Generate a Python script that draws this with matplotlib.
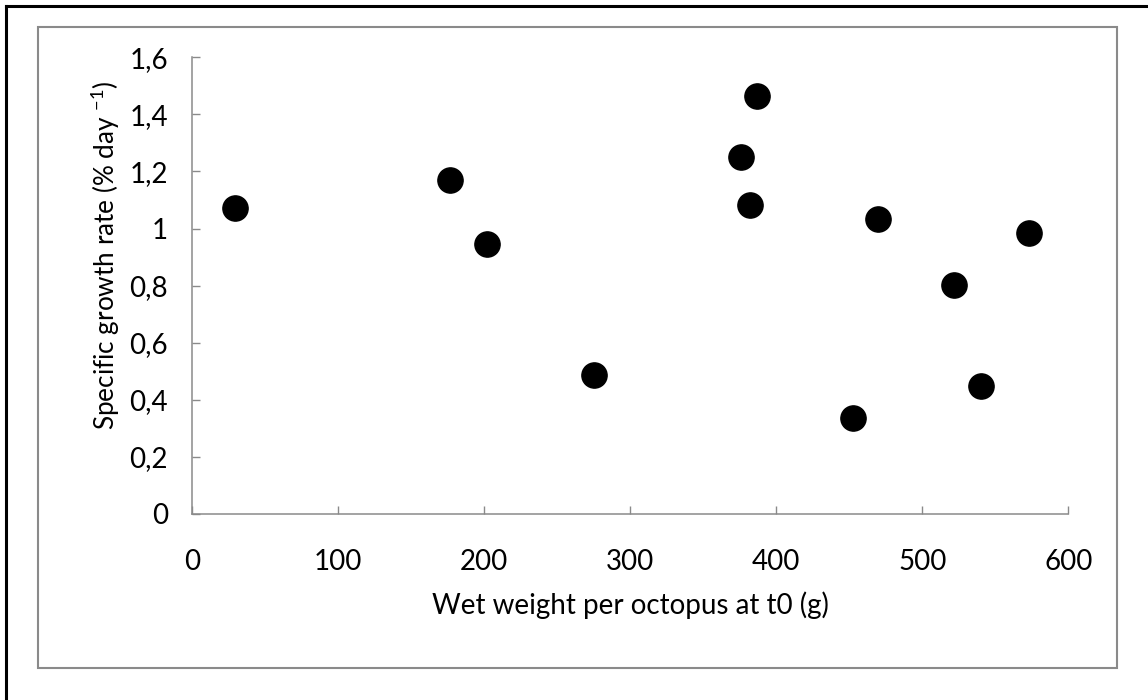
import matplotlib
matplotlib.use("Agg")
import matplotlib.pyplot as plt
from matplotlib.patches import Rectangle
from matplotlib.lines import Line2D
from matplotlib.ticker import FuncFormatter

# data
wet_weight = [29.6, 176.8, 201.9, 275.6, 376.0, 386.9, 382.1, 470.0, 452.6, 521.6, 540.5, 573.3]
growth_rate = [1.073, 1.169, 0.945, 0.488, 1.250, 1.466, 1.082, 1.034, 0.336, 0.801, 0.448, 0.985]
x_ticks = [0, 100, 200, 300, 400, 500, 600]
y_ticks = [0, 0.2, 0.4, 0.6, 0.8, 1.0, 1.2, 1.4, 1.6]

plt.rcParams["font.family"] = ["Lato", "DejaVu Sans"]
plt.rcParams["mathtext.fontset"] = "custom"
plt.rcParams["mathtext.rm"] = "Lato"
plt.rcParams["mathtext.it"] = "Lato"

W, H = 1148, 700
fig = plt.figure(figsize=(W / 100, H / 100), dpi=100)
ax = fig.add_axes([191.7 / W, 1 - 514 / H, (1068.3 - 191.7) / W, (514 - 57.3) / H])

ax.scatter(wet_weight, growth_rate, s=330, color="black", zorder=3, clip_on=False)

ax.set_xlim(0, 600)
ax.set_ylim(0, 1.6)
ax.set_xticks(x_ticks)
ax.set_yticks(y_ticks)
ax.yaxis.set_major_formatter(FuncFormatter(lambda v, p: ("%g" % round(v, 1)).replace(".", ",")))

grey = "#8a8a8a"
for side in ["top", "right"]:
    ax.spines[side].set_visible(False)
for side in ["left", "bottom"]:
    ax.spines[side].set_color(grey)
    ax.spines[side].set_linewidth(1.1)
ax.tick_params(axis="both", direction="in", length=6, width=1.0, color=grey,
               labelsize=20, labelcolor="black")
ax.tick_params(axis="y", pad=17)
ax.tick_params(axis="x", pad=25)

ax.set_xlabel("Wet weight per octopus at t0 (g)", fontsize=20, labelpad=12)
ax.set_ylabel(r"Specific growth rate (% day $^{-1}$)", fontsize=18.8)
ax.yaxis.set_label_coords(-0.080, (514 - 255) / (514 - 57.3))

# chart area frame and the clipped outer border
fig.patches.append(Rectangle((38 / W, 1 - 668 / H), (1117 - 38) / W, (668 - 27) / H,
                             transform=fig.transFigure, fill=False, edgecolor=grey, linewidth=1.5))
fig.lines.append(Line2D([6 / W, 6 / W], [0, 1 - 5.5 / H], transform=fig.transFigure, color="black", linewidth=2.2))
fig.lines.append(Line2D([6 / W, 1], [1 - 5.5 / H, 1 - 5.5 / H], transform=fig.transFigure, color="black", linewidth=2.2))

fig.savefig("out.png", dpi=100)
